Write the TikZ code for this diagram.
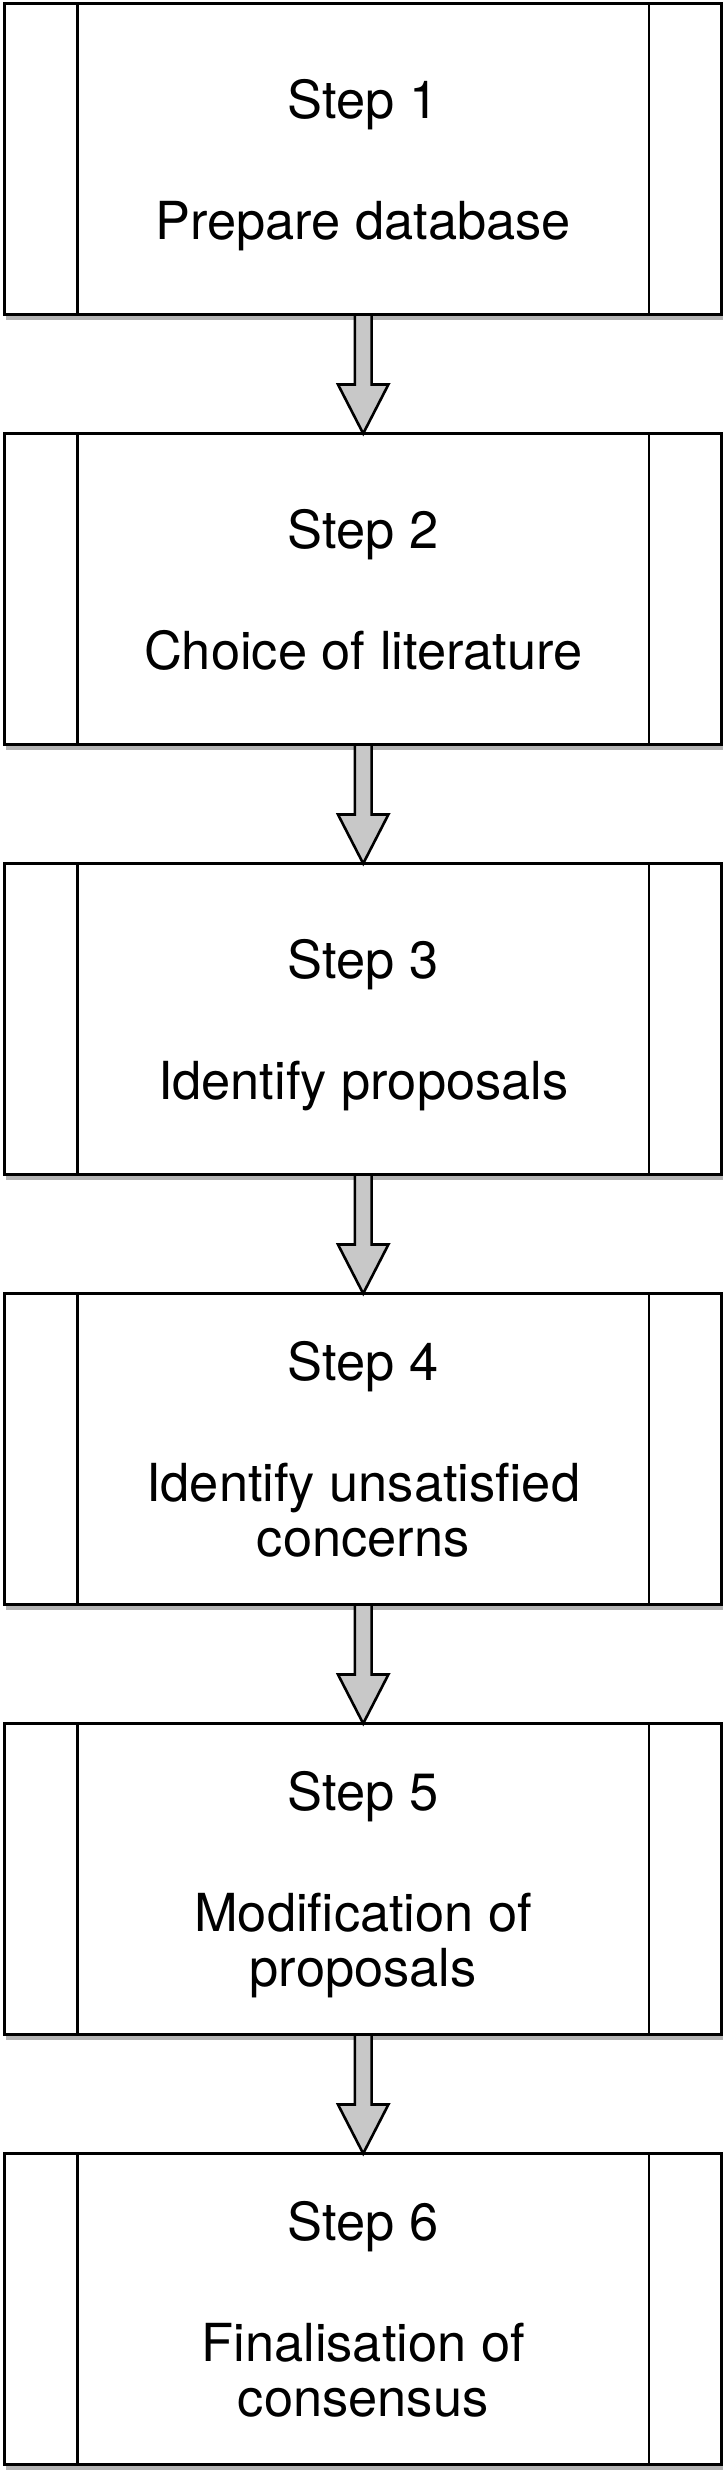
\documentclass[tikz,border=0pt]{standalone}
\usepackage{fontspec}
\setmainfont{TeX Gyre Heros}
\usetikzlibrary{positioning}
\usetikzlibrary{shadows}
\definecolor{arrowgrey}{RGB}{200,200,200}
\tikzset{
	stepbox/.style={draw, rectangle, line width=1.4pt, fill=white,
		minimum width=358.5pt, minimum height=155.5pt, inner sep=0pt, outer sep=0pt,
		align=center, text depth=0pt, font=\fontsize{26.2}{27.5}\selectfont,
		drop shadow={shadow xshift=0.6pt, shadow yshift=-2.8pt, opacity=0.6}},
	sideline/.style={line width=1.1pt},
	blockarrow/.style={draw, line width=1.3pt, fill=arrowgrey, line join=miter,
		to path={
			([xshift=-4.2pt]\tikztostart) -- ([xshift=-4.2pt, yshift=24.5pt]\tikztotarget)
			-- ([xshift=-12.6pt, yshift=24.5pt]\tikztotarget) -- (\tikztotarget)
			-- ([xshift=12.6pt, yshift=24.5pt]\tikztotarget)
			-- ([xshift=4.2pt, yshift=24.5pt]\tikztotarget)
			-- ([xshift=4.2pt]\tikztostart) -- cycle
		}
	}
}

\begin{document}
\begin{tikzpicture}[node distance=59.5pt]
	\useasboundingbox (0, 0) rectangle (364pt, -1240.5pt);
	\coordinate (top) at (2.35pt, -1.75pt);
	\node[stepbox, anchor=north west] (s1) at (top) {Step 1\\[33pt]Prepare database};
	\node[stepbox, below=of s1] (s2) {Step 2\\[33pt]Choice of literature};
	\node[stepbox, below=of s2] (s3) {Step 3\\[33pt]Identify proposals};
	\node[stepbox, below=of s3] (s4) {Step 4\\[33pt]Identify unsatisfied\\concerns};
	\node[stepbox, below=of s4] (s5) {Step 5\\[33pt]Modification of\\proposals};
	\node[stepbox, below=of s5] (s6) {Step 6\\[33pt]Finalisation of\\consensus};
	\foreach \n in {1,...,6} {
		\draw[sideline] ([xshift=36.4pt]s\n.north west) -- ([xshift=36.4pt]s\n.south west);
		\draw[sideline] ([xshift=-36.4pt]s\n.north east) -- ([xshift=-36.4pt]s\n.south east);
	}
	\foreach \a/\b in {1/2, 2/3, 3/4, 4/5, 5/6}
		\draw[blockarrow] (s\a.south) to (s\b.north);
\end{tikzpicture}
\end{document}
